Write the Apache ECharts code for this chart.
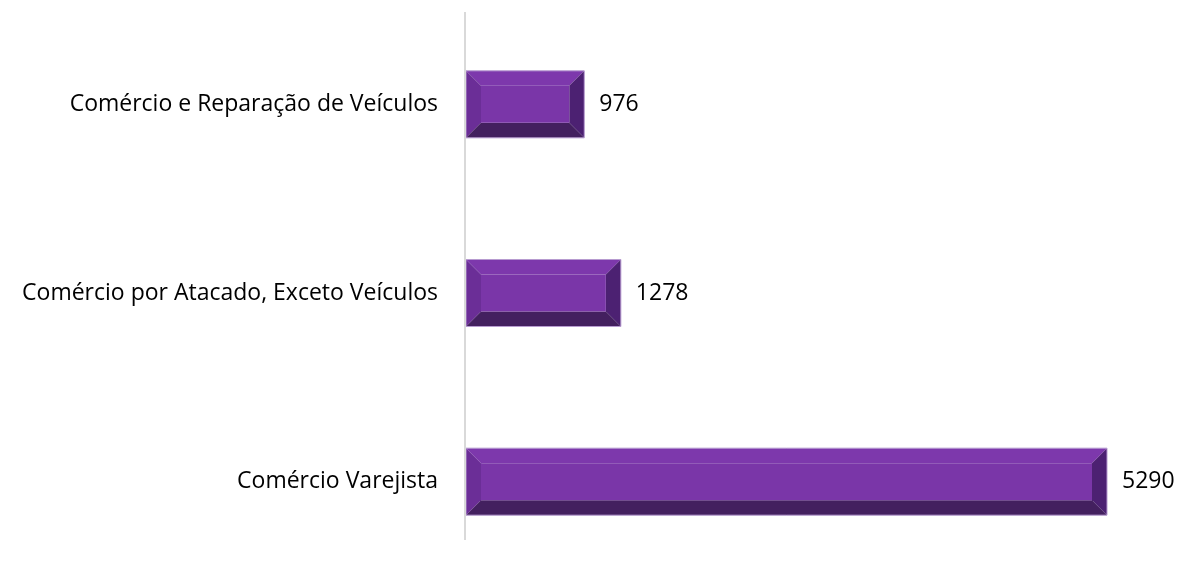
<!DOCTYPE html>
<html>
<head>
<meta charset="utf-8">
<script src="https://cdn.jsdelivr.net/npm/echarts@6/dist/echarts.min.js"></script>
<style>html,body{margin:0;padding:0;background:#fff}#c{width:1184px;height:569px}</style>
</head>
<body>
<div id="c"></div>
<script>
const categories = ['Comércio Varejista', 'Comércio por Atacado, Exceto Veículos', 'Comércio e Reparação de Veículos'];
const values = [5290, 1278, 976];

const chart = echarts.init(document.getElementById('c'));
const FONT = 'Open Sans';
function renderBar(params, api) {
  const v = api.value(0), ci = api.value(1);
  const p0 = api.coord([0, ci]);
  const p1 = api.coord([v, ci]);
  const h = 67;
  const x0 = p0[0], x1 = p1[0], y0 = p0[1] - h / 2, y1 = p0[1] + h / 2;
  const b = 15;
  const ix0 = x0 + b, ix1 = x1 - b, iy0 = y0 + b, iy1 = y1 - b;
  const poly = (pts, fill) => ({ type: 'polygon', shape: { points: pts }, style: { fill: fill } });
  return {
    type: 'group',
    children: [
      poly([[x0, y0], [x1, y0], [ix1, iy0], [ix0, iy0]], '#7d38ac'),
      poly([[x0, y0], [ix0, iy0], [ix0, iy1], [x0, y1]], '#6b2e97'),
      poly([[x1, y0], [x1, y1], [ix1, iy1], [ix1, iy0]], '#4c2172'),
      poly([[x0, y1], [ix0, iy1], [ix1, iy1], [x1, y1]], '#43205f'),
      { type: 'rect', shape: { x: ix0, y: iy0, width: ix1 - ix0, height: iy1 - iy0 }, style: { fill: '#7a36a8' } },
      { type: 'rect', shape: { x: x0, y: y0, width: x1 - x0, height: h }, style: { fill: 'none', stroke: '#b79bd0', lineWidth: 1 } },
      { type: 'text', x: x1 + 15, y: p0[1], style: { text: String(v), fill: '#000', font: '23px "' + FONT + '"', verticalAlign: 'middle', align: 'left' } }
    ]
  };
}
chart.setOption({
  animation: false,
  grid: { left: 466, width: 641, top: 10, height: 566, outerBoundsMode: 'none', containLabel: false },
  xAxis: { type: 'value', min: 0, max: 5290, show: false },
  yAxis: {
    type: 'category', data: categories,
    axisLine: { show: false }, axisTick: { show: false }, splitLine: { show: false },
    axisLabel: { margin: 28, fontSize: 23, fontFamily: FONT, color: '#000' }
  },
  graphic: [{ type: 'line', shape: { x1: 465, y1: 12, x2: 465, y2: 540 }, style: { stroke: '#d9d9d9', lineWidth: 2 }, z: 10 }],
  series: [{
    type: 'custom',
    renderItem: renderBar,
    encode: { x: 0, y: 1 },
    data: values.map((v, i) => [v, i])
  }]
});
</script>
</body>
</html>
